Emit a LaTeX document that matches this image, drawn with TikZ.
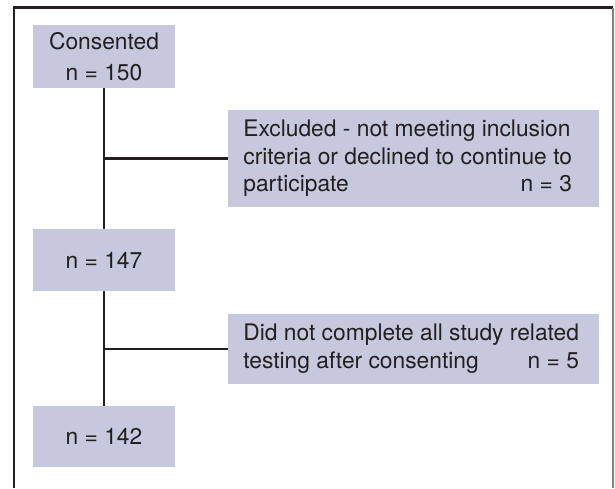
\documentclass[tikz,border=0pt]{standalone}
\usepackage{fontspec}
\setmainfont{TeX Gyre Heros}
\definecolor{lavande}{RGB}{198,200,221}
\definecolor{encre}{RGB}{35,31,32}
\tikzset{
  boite/.style={fill=lavande,text=encre,inner xsep=15pt,inner ysep=0pt,font=\fontsize{22.8}{27.5}\selectfont},
  petite/.style={boite,minimum width=142pt},
  large/.style={boite,anchor=west,minimum width=371pt},
  trait/.style={draw=encre,line width=2.2pt}
}
\begin{document}
\begin{tikzpicture}[x=1pt,y=-1pt]
\useasboundingbox (0,0) rectangle (615,488);
\pgfmathsetmacro{\axe}{104}
\pgfmathsetmacro{\gauche}{228}
  \draw[line width=2.2pt,color=encre] (14,488) -- (14,7.5) -- (613,7.5);
  \draw[line width=1.2pt,color=gray] (613,7.5) -- (613,488);
  \node[petite,minimum height=63pt,align=center] (consent) at (\axe,56.5) {Consented\\[3pt]n = 150};
  \node[petite,minimum height=62pt] (n147) at (\axe,260) {n = 147};
  \node[petite,minimum height=61pt] (n142) at (\axe,436.5) {n = 142};
  \node[large,minimum height=97pt] (exclus) at (\gauche,158.5) {\begin{tabular}{@{}l@{\hspace{12pt}}}
Excluded - not meeting inclusion\\
criteria or declined to continue to\\
participate\hfill n = 3
\end{tabular}};
  \node[large,minimum height=70pt] (incomplet) at (\gauche,349) {\begin{tabular}{@{}l@{\hspace{5pt}}}
Did not complete all study related\\
testing after consenting\hfill n = 5
\end{tabular}};
  \draw[trait] (consent) -- (n147);
  \draw[trait] (n147) -- (n142);
  \draw[trait] (exclus.west) -- (exclus.west -| consent.south);
  \draw[trait] (incomplet.west) -- (incomplet.west -| n147.south);
\end{tikzpicture}
\end{document}
